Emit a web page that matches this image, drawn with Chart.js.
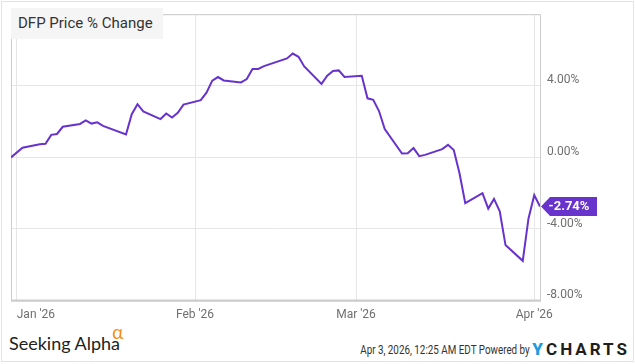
<!DOCTYPE html>
<html>
<head>
<meta charset="utf-8">
<script src="https://cdn.jsdelivr.net/npm/chart.js@4.4.1/dist/chart.umd.min.js"></script>
<style>
html,body{margin:0;padding:0;background:#fff;}
#wrap{position:relative;width:635px;height:364px;overflow:hidden;font-family:Roboto,sans-serif;}
#frame{position:absolute;left:1px;top:1px;width:633px;height:361px;border:1px solid #e3e3e3;box-sizing:border-box;}
#box{position:absolute;left:0;top:0;width:635px;height:330px;}
#title{position:absolute;left:11px;top:8px;width:152px;height:31px;background:#f5f5f5;color:#333;
  font-size:15px;line-height:31px;padding-left:7px;box-sizing:border-box;}
#sa{position:absolute;left:9px;top:332px;font-family:Lato,sans-serif;font-size:18px;line-height:22px;color:#222;}
#alpha{position:absolute;left:112px;top:322px;font-family:Lato,sans-serif;color:#f68b1f;font-size:19px;line-height:20px;}
#foot{position:absolute;right:8px;top:340px;display:flex;align-items:flex-end;}
#stamp{font-size:12px;color:#333;transform:scaleX(0.82);transform-origin:right bottom;margin-right:3px;line-height:16px;}
#yc{font-size:17px;font-weight:700;letter-spacing:3px;color:#1e1e1e;line-height:18px;margin-right:-3px;}
#yc b{color:#1f9be0;}
</style>
</head>
<body>
<div id="wrap">
  <div id="frame"></div>
  <div id="box"><canvas id="c" width="635" height="330"></canvas></div>
  <div id="title">DFP Price % Change</div>
  <div id="sa">Seeking Alpha</div><div id="alpha">α</div>
  <div id="foot"><span id="stamp">Apr 3, 2026, 12:25 AM EDT Powered by</span><span id="yc"><b>Y</b>CHARTS</span></div>
</div>
<script>
/* DFP price % change since Dec 31 2025, daily closes */
const DATES = [
  "2025-12-31","2026-01-02","2026-01-05","2026-01-06","2026-01-07","2026-01-08","2026-01-09",
  "2026-01-12","2026-01-13","2026-01-14","2026-01-15","2026-01-16","2026-01-20","2026-01-21",
  "2026-01-22","2026-01-23","2026-01-26","2026-01-27","2026-01-28","2026-01-29","2026-01-30",
  "2026-02-02","2026-02-03","2026-02-04","2026-02-05","2026-02-06","2026-02-09","2026-02-10",
  "2026-02-11","2026-02-12","2026-02-13","2026-02-17","2026-02-18","2026-02-19","2026-02-20",
  "2026-02-23","2026-02-24","2026-02-25","2026-02-26","2026-02-27","2026-03-02","2026-03-03",
  "2026-03-04","2026-03-05","2026-03-06","2026-03-09","2026-03-10","2026-03-11","2026-03-12",
  "2026-03-13","2026-03-16","2026-03-17","2026-03-18","2026-03-19","2026-03-20","2026-03-23",
  "2026-03-24","2026-03-25","2026-03-26","2026-03-27","2026-03-30","2026-03-31","2026-04-01",
  "2026-04-02"
];
const PCT = [
  0.00, 0.54, 0.74, 0.76, 1.26, 1.31, 1.71,
  1.87, 2.07, 1.89, 1.96, 1.76, 1.28, 2.41,
  2.97, 2.57, 2.14, 2.45, 2.23, 2.49, 2.95,
  3.20, 3.62, 4.29, 4.49, 4.30, 4.19, 4.38,
  4.94, 4.94, 5.10, 5.53, 5.80, 5.62, 5.08,
  4.11, 4.56, 4.83, 4.86, 4.49, 4.56, 3.30,
  3.22, 2.59, 1.58, 0.22, 0.23, 0.52, 0.07,
  0.14, 0.46, 0.70, 0.41, -0.89, -2.56, -2.00,
  -2.86, -2.32, -3.01, -4.90, -5.78, -3.41, -2.11,
  -2.74
];
const MONTH_TICKS = ["2026-01-01","2026-02-01","2026-03-01","2026-04-01"];
const MONTH_LABELS = ["Jan '26","Feb '26","Mar '26","Apr '26"];
const Y_TICKS = [-8, -4, 0, 4, 8];
const LINE = "#6733cc", GRID = "#e6e6e6", TICK = "#6f6f6f";

const T0 = Date.UTC(2026, 0, 1);
function dayNum(s){ const [y,m,d] = s.split("-").map(Number); return (Date.UTC(y, m-1, d) - T0) / 864e5; }
const pts = DATES.map((d,i) => ({ x: dayNum(d), y: PCT[i] }));
const xTicks = MONTH_TICKS.map(dayNum);
const xMin = pts[0].x, xMax = pts[pts.length-1].x;
const font = { family: "Roboto", size: 12 };

const frame = {
  id: "frame",
  beforeDatasetsDraw(chart){
    const { ctx, chartArea: a } = chart;
    ctx.save();
    ctx.strokeStyle = "#cdcdcd"; ctx.lineWidth = 1;
    ctx.strokeRect(a.left + 0.5, a.top + 0.5, a.right - a.left, a.bottom - a.top);
    ctx.lineWidth = 2;
    ctx.beginPath(); ctx.moveTo(a.left, a.bottom); ctx.lineTo(a.right + 1, a.bottom); ctx.stroke();
    ctx.restore();
  }
};

const lastTag = {
  id: "lastTag",
  afterDatasetsDraw(chart){
    const { ctx, chartArea: a } = chart;
    const pts = chart.getDatasetMeta(0).data, p = pts[pts.length-1];
    const x = a.right + 1, y = p.y, h = 9.5, w = 56;
    ctx.save();
    ctx.fillStyle = LINE;
    ctx.beginPath();
    ctx.moveTo(x, y); ctx.lineTo(x + 9, y - h); ctx.lineTo(x + w, y - h);
    ctx.lineTo(x + w, y + h); ctx.lineTo(x + 9, y + h); ctx.closePath(); ctx.fill();
    ctx.fillStyle = "#fff"; ctx.font = "bold 13px Roboto";
    ctx.textAlign = "center"; ctx.textBaseline = "middle";
    ctx.fillText(PCT[PCT.length-1].toFixed(2) + "%", x + 28, y + 0.5);
    ctx.restore();
  }
};

new Chart(document.getElementById("c"), {
  type: "line",
  data: { datasets: [{ label: "DFP Price % Change", data: pts, borderColor: LINE, borderWidth: 2,
    pointRadius: 0, tension: 0, fill: false }] },
  options: {
    responsive: false, animation: false,
    layout: { padding: { left: 11, top: 8, right: 0, bottom: 1 } },
    plugins: { legend: { display: false }, tooltip: { enabled: false } },
    scales: {
      x: { type: "linear", min: xMin, max: xMax,
        afterBuildTicks: s => { s.ticks = [...xTicks, xMax].map(v => ({ value: v })); },
        grid: { color: c => (c.tick && c.tick.value === xMax) ? "transparent" : GRID, drawTicks: false },
        border: { display: false },
        ticks: { align: "inner", autoSkip: false, maxRotation: 0, padding: 7, color: TICK, font,
          callback: v => { const i = xTicks.indexOf(v); return i < 0 ? "" : MONTH_LABELS[i]; } } },
      y: { position: "right", min: -8, max: 8,
        afterBuildTicks: s => { s.ticks = Y_TICKS.map(v => ({ value: v })); },
        afterFit: s => { s.width = 95; },
        grid: { color: GRID, drawTicks: false },
        border: { display: false },
        ticks: { padding: 7, labelOffset: -5.5, color: TICK, font,
          callback: v => v === 8 ? "" : v.toFixed(2) + "%" } }
    }
  },
  plugins: [frame, lastTag]
});
</script>
</body>
</html>
